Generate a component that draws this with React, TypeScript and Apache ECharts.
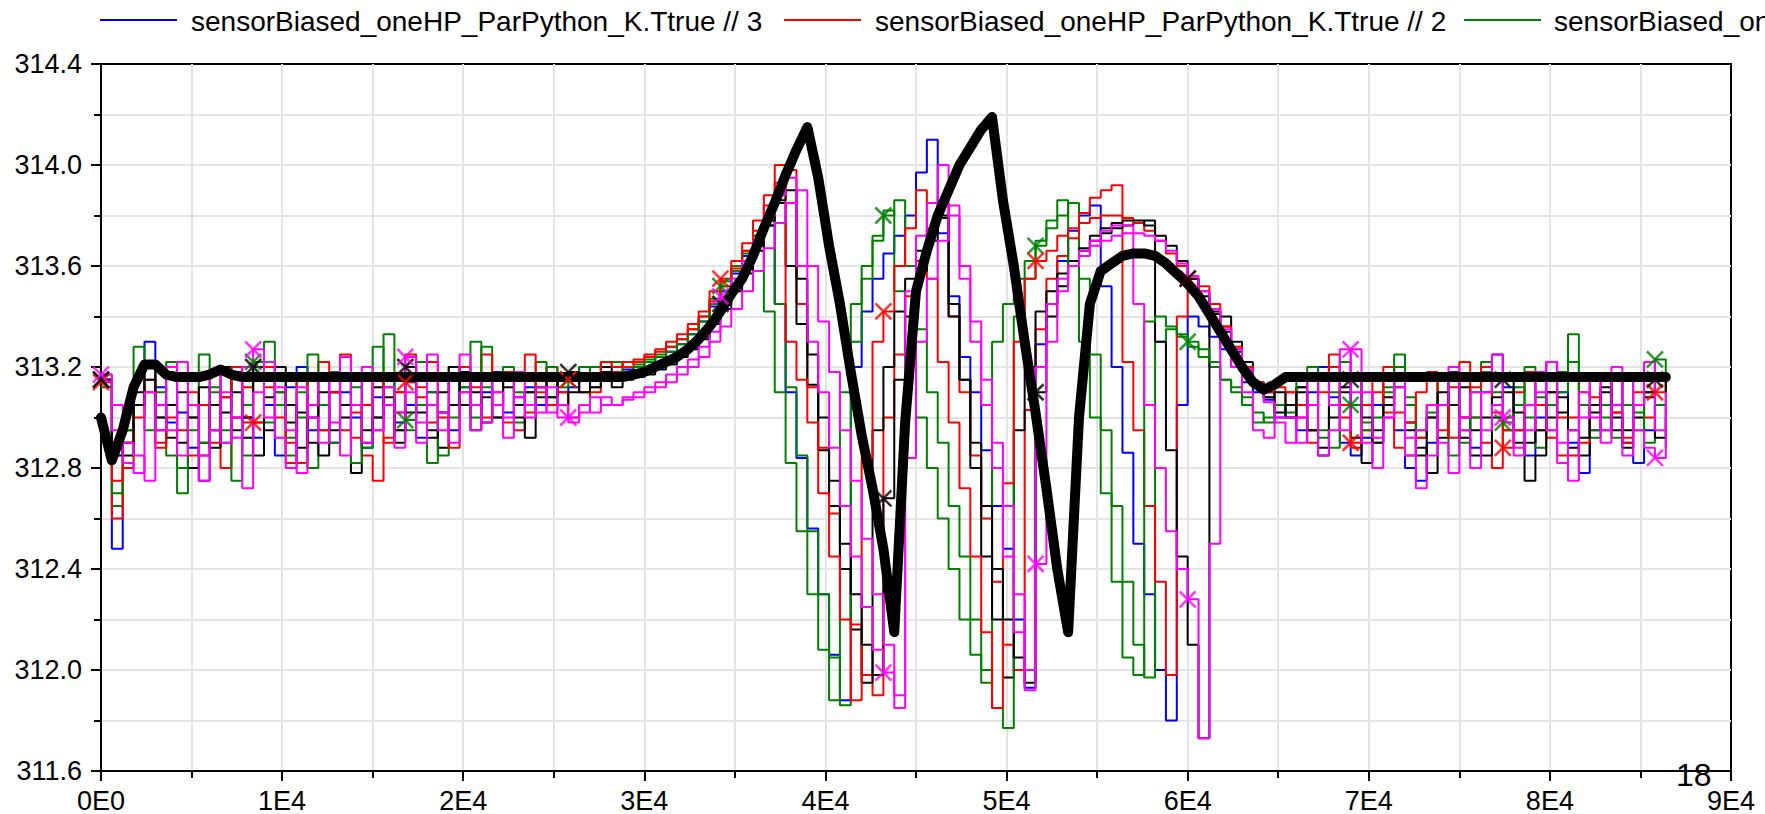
import React, { useEffect, useRef } from "react";
import * as echarts from "echarts";

const FONT = '"Liberation Sans", Arial, Helvetica, sans-serif';

// sampling grid of the simulation output (s)
const SAMPLE_PERIOD = 600;
const SAMPLE_COUNT = 145;
const T: number[] = Array.from({ length: SAMPLE_COUNT }, (_, i) => i * SAMPLE_PERIOD);

const X_TICKS = [0, 10000, 20000, 30000, 40000, 50000, 60000, 70000, 80000, 90000];
const Y_TICKS = [311.6, 312.0, 312.4, 312.8, 313.2, 313.6, 314.0, 314.4];

const LEGEND_NAMES = [
  "sensorBiased_oneHP_ParPython_K.Ttrue // 3",
  "sensorBiased_oneHP_ParPython_K.Ttrue // 2",
  "sensorBiased_oneHP_ParPython_K.Ttrue // 1",
];

// indices of the samples that carry a cross marker
const MARKER_IDX = [0, 14, 28, 43, 57, 72, 86, 100, 115, 129, 143];

const BLUE = [
  313.15, 312.48, 312.9, 313.05, 313.3, 313.12, 312.98, 313.02, 312.88, 312.75, 312.95, 313.08, 313.18, 313.0, 312.92, 313.05, 312.85, 313.12, 313.2, 312.95, 313.05, 312.9, 313.1, 313.0, 312.88, 313.08, 313.15, 312.98, 313.05, 312.92, 313.1, 313.02, 312.95, 313.12, 313.05, 313.1, 313.18, 313.02, 313.08, 313.12, 313.05, 313.15, 313.1, 313.12, 313.2, 313.15, 313.18,
  313.18, 313.19, 313.2, 313.22, 313.24, 313.26, 313.29, 313.33, 313.38, 313.44, 313.5, 313.57, 313.64, 313.7, 313.76, 313.45, 313.1, 312.84, 312.56, 312.3, 312.06, 311.88, 313.2, 313.42, 313.55, 313.65, 313.72, 313.8, 313.97, 314.1, 313.73, 313.48, 313.24, 313.1, 312.87, 312.65, 312.48, 312.2, 311.93, 313.29, 313.45, 313.62, 313.74, 313.8, 313.84, 313.52, 313.2, 312.86, 312.5, 312.3, 312.0, 311.8, 313.05, 313.4, 313.36, 313.32, 313.27, 313.2, 313.14, 313.1, 313.07, 313.0,
  313.05, 312.95, 313.1, 313.2, 313.08, 312.9, 312.85, 312.92, 313.05, 313.15, 312.95, 312.8, 312.75, 312.9, 313.05, 313.18, 313.0, 312.88, 313.1, 313.25, 313.12, 312.95, 312.85, 313.0, 313.22, 313.1, 312.9, 312.78, 312.95, 313.05, 313.15, 312.9, 312.82, 312.95, 313.05, 312.88,
];

const RED = [
  313.15, 312.6, 312.8, 313.05, 313.1, 312.9, 313.0, 313.15, 312.85, 313.05, 312.95, 312.8, 313.0, 313.12, 312.98, 313.2, 313.1, 312.9, 312.82, 313.05, 313.22, 313.1, 312.95, 313.02, 312.85, 312.75, 312.92, 313.1, 313.25, 313.08, 312.98, 313.15, 313.05, 313.2, 313.12, 313.25, 313.05, 313.18, 312.95, 313.02, 313.12, 313.2, 313.1, 313.0, 313.05, 313.1, 313.18,
  313.18, 313.2, 313.22, 313.24, 313.26, 313.28, 313.31, 313.35, 313.4, 313.46, 313.52, 313.59, 313.66, 313.74, 313.84, 313.93, 313.98, 313.45, 313.12, 312.88, 312.62, 312.4, 312.18, 311.98, 311.9, 313.0, 313.25, 313.48, 313.62, 313.75, 313.85, 313.4, 313.1, 312.85, 312.6, 312.35, 312.1, 312.0, 313.03, 313.35, 313.55, 313.64, 313.71, 313.81, 313.87, 313.9, 313.92, 313.22, 312.95, 312.65, 312.35, 311.98, 313.4, 313.55, 313.52, 313.45, 313.36, 313.27, 313.19, 313.12, 313.08, 313.05,
  313.1, 313.0, 312.9, 313.15, 313.25, 313.05, 312.88, 312.95, 313.1, 313.2, 313.02, 312.85, 312.92, 313.05, 312.95, 313.12, 313.22, 313.0, 312.9, 312.8, 312.95, 313.1, 313.18, 313.05, 312.92, 312.85, 313.0, 313.15, 313.08, 312.95, 313.02, 312.9, 313.1, 313.0, 313.15, 313.1,
];

const GREEN = [
  313.12, 312.65, 312.9, 313.28, 313.2, 313.0, 312.85, 312.7, 312.95, 313.25, 313.1, 312.9, 313.0, 312.85, 313.15, 313.3, 313.05, 312.92, 313.1, 312.8, 312.95, 313.18, 313.05, 313.12, 312.88, 313.0, 313.33, 313.1, 312.95, 313.05, 312.82, 313.02, 313.2, 313.12, 313.0, 313.28, 313.05, 313.15, 312.98, 313.1, 313.22, 313.08, 313.15, 313.18, 313.2, 313.12, 313.22,
  313.2, 313.22, 313.21, 313.23, 313.25, 313.28, 313.31, 313.35, 313.4, 313.47, 313.54, 313.6, 313.66, 313.72, 313.42, 313.1, 312.82, 312.55, 312.3, 312.08, 311.88, 313.1, 313.45, 313.6, 313.72, 313.82, 313.5, 313.25, 313.0, 312.8, 312.6, 312.4, 312.2, 312.06, 311.95, 313.3, 313.45, 313.55, 313.62, 313.7, 313.75, 313.8, 313.85, 313.55, 313.25, 312.95, 312.65, 312.35, 312.1, 311.97, 313.3, 313.35, 313.32, 313.28, 313.24, 313.2, 313.15, 313.12, 313.08, 313.02, 312.98, 313.05,
  313.02, 313.12, 313.2, 312.95, 312.88, 313.05, 313.15, 312.98, 312.9, 313.1, 313.2, 313.05, 312.92, 313.0, 313.15, 312.85, 312.95, 313.1, 313.22, 313.05, 312.95, 313.12, 313.0, 312.88, 313.05, 313.18, 313.33, 313.1, 312.95, 313.05, 312.92, 313.15, 313.02, 312.9, 313.05, 313.2,
];

const BLACK = [
  313.15, 312.85, 312.95, 313.1, 313.22, 313.0, 312.92, 313.1, 312.8, 312.9, 313.05, 313.2, 312.95, 313.0, 312.85, 313.08, 313.15, 312.98, 313.02, 312.9, 312.85, 313.1, 313.0, 312.78, 312.95, 313.12, 313.05, 312.9, 313.02, 313.15, 312.95, 312.88, 313.05, 313.18, 313.1, 312.98, 313.05, 313.12, 313.0, 312.92, 313.08, 313.15, 313.05, 313.1, 313.15, 313.12, 313.2,
  313.12, 313.15, 313.16, 313.17, 313.19, 313.21, 313.24, 313.27, 313.31, 313.37, 313.43, 313.5, 313.57, 313.66, 313.76, 313.85, 313.6, 313.37, 313.13, 312.87, 312.65, 312.4, 312.16, 311.95, 312.95, 313.2, 313.42, 313.55, 313.66, 313.73, 313.79, 313.4, 313.15, 312.8, 312.45, 312.2, 311.97, 312.95, 313.2, 313.42, 313.5, 313.57, 313.62, 313.66, 313.7, 313.73, 313.75, 313.76, 313.77, 313.78, 313.3, 312.87, 312.45, 312.1, 311.73, 313.42, 313.4, 313.3, 313.22, 313.14, 313.1, 313.02,
  313.05, 313.12, 312.95, 312.85, 313.0, 313.1, 312.92, 312.82, 312.95, 313.08, 313.15, 312.98, 312.88, 312.78, 312.92, 313.05, 313.12, 312.95, 312.85, 313.0, 313.1, 312.9, 312.75, 312.85, 313.0, 313.08, 312.95, 312.85, 313.02, 313.1, 312.95, 312.88, 313.0, 313.08, 312.92, 313.0,
];

const MAGENTA = [
  313.17, 312.95, 312.82, 312.78, 313.1, 312.95, 313.2, 312.85, 313.05, 312.75, 313.18, 312.9, 313.0, 312.72, 313.1, 313.22, 312.92, 312.8, 313.12, 313.0, 312.9, 313.15, 312.85, 313.05, 313.2, 312.95, 313.05, 312.88, 313.1, 312.98, 313.25, 313.02, 312.9, 313.1, 312.95, 313.15, 313.05, 312.92, 313.08, 313.0, 313.12, 313.02, 313.05, 312.98, 313.05, 313.02, 313.08,
  313.05, 313.07, 313.08, 313.1, 313.12, 313.14, 313.17, 313.2, 313.24, 313.3, 313.36, 313.43, 313.5, 313.58, 313.67, 313.77, 313.85, 313.9, 313.6, 313.38, 313.18, 312.95, 312.75, 312.52, 312.3, 312.1, 311.9, 312.84, 313.3, 313.55, 313.7, 313.84, 313.6, 313.38, 313.15, 312.9, 312.65, 312.3, 312.0, 313.2, 313.45, 313.55, 313.6, 313.64, 313.68, 313.7, 313.72, 313.73, 313.73, 313.72, 313.7, 313.66, 313.61, 313.56, 313.5, 313.43, 313.35, 313.27, 313.19, 313.12, 313.06, 312.98,
  312.9, 313.0, 313.15, 312.85, 312.95, 313.27, 313.1, 312.9, 312.8, 313.0, 313.15, 312.92, 312.72, 312.85, 313.05, 313.2, 312.95, 312.8, 313.1, 313.25, 313.0, 312.85, 312.95, 313.1, 313.22, 312.9, 312.75, 313.0, 313.15, 312.95, 313.2, 312.85, 313.05, 313.22, 312.95, 313.1,
];

const RED_X = [
  313.14, 312.75, 312.9, 313.0, 313.15, 312.88, 313.05, 312.95, 313.1, 312.85, 312.9, 313.08, 313.2, 312.98, 312.98, 313.12, 313.0, 312.82, 313.15, 313.05, 312.95, 313.1, 313.25, 312.92, 313.05, 313.15, 312.9, 313.02, 313.14, 313.12, 313.22, 313.0, 312.88, 313.05, 313.15, 313.0, 313.1, 312.98, 313.15, 313.25, 313.1, 313.05, 313.15, 313.15, 313.1, 313.15, 313.22,
  313.2, 313.22, 313.23, 313.25, 313.27, 313.3, 313.33, 313.37, 313.42, 313.5, 313.55, 313.62, 313.69, 313.78, 313.88, 314.0, 313.3, 313.15, 312.98, 312.7, 312.45, 312.2, 311.88, 312.84, 313.3, 313.42, 313.6, 313.75, 313.9, 313.55, 313.22, 312.98, 312.72, 312.45, 312.15, 311.85, 312.74, 313.3, 313.55, 313.62, 313.66, 313.72, 313.75, 313.77, 313.79, 313.8, 313.8, 313.79, 313.77, 313.74, 313.7, 313.65, 313.6, 313.55, 313.5, 313.43, 313.36, 313.28, 313.2, 313.14, 313.1, 313.12,
  313.1, 313.05, 312.95, 313.1, 313.2, 313.0, 312.9, 313.05, 313.15, 313.02, 312.88, 312.98, 313.1, 313.18, 313.05, 312.92, 313.0, 313.12, 313.2, 313.02, 312.88, 312.95, 313.05, 312.95, 313.1, 313.0, 312.85, 312.9, 313.05, 313.15, 313.02, 312.92, 313.05, 313.15, 313.1, 313.1,
];

const GREEN_X = [
  313.15, 312.7, 312.95, 313.15, 312.95, 313.1, 313.22, 312.8, 313.0, 312.9, 313.12, 312.95, 312.75, 313.05, 313.22, 312.98, 313.1, 312.85, 313.0, 313.25, 313.05, 312.9, 313.15, 312.82, 313.05, 313.28, 313.12, 312.95, 312.99, 313.22, 313.1, 312.85, 313.0, 313.1, 313.3, 313.12, 313.0, 313.2, 313.1, 313.05, 313.15, 313.2, 313.12, 313.15, 313.15, 313.2, 313.22,
  313.22, 313.18, 313.2, 313.22, 313.24, 313.26, 313.29, 313.33, 313.38, 313.45, 313.52, 313.58, 313.65, 313.72, 313.78, 313.45, 313.12, 312.85, 312.55, 312.3, 312.05, 311.86, 313.3, 313.55, 313.7, 313.8, 313.86, 313.6, 313.35, 313.1, 312.9, 312.65, 312.45, 312.2, 312.0, 311.85, 311.77, 313.4, 313.55, 313.68, 313.78, 313.86, 313.6, 313.3, 313.0, 312.7, 312.35, 312.05, 311.98, 313.38, 313.4, 313.36, 313.33, 313.3, 313.27, 313.22, 313.15, 313.1, 313.05, 312.98, 313.0, 313.05,
  313.0, 313.15, 313.05, 312.92, 313.1, 313.22, 313.05, 312.95, 313.0, 313.12, 313.25, 313.08, 312.95, 313.02, 313.15, 313.05, 312.9, 313.0, 313.18, 313.1, 312.98, 313.05, 313.2, 313.08, 312.95, 313.1, 313.22, 313.05, 312.92, 313.0, 313.15, 313.05, 312.95, 313.1, 313.23, 313.2,
];

const MAGENTA_X = [
  313.17, 313.05, 312.9, 312.85, 312.75, 313.05, 312.95, 313.22, 313.05, 312.85, 312.95, 313.1, 312.92, 313.2, 313.27, 313.0, 313.12, 312.95, 312.78, 313.05, 313.15, 312.98, 313.24, 313.05, 312.9, 312.95, 313.12, 313.02, 313.24, 312.9, 313.05, 312.95, 313.15, 313.25, 313.05, 312.98, 313.1, 313.0, 313.18, 313.05, 313.02, 313.12, 313.0, 313.0, 313.02, 313.08, 313.05,
  313.05, 313.08, 313.1, 313.12, 313.14, 313.17, 313.2, 313.23, 313.28, 313.34, 313.48, 313.55, 313.62, 313.7, 313.8, 313.88, 313.95, 313.6, 313.3, 313.1, 312.88, 312.65, 312.45, 312.25, 312.08, 311.99, 311.85, 313.5, 313.72, 313.85, 314.0, 313.8, 313.55, 313.3, 313.05, 312.8, 312.45, 312.15, 311.92, 312.42, 313.3, 313.5, 313.6, 313.66, 313.7, 313.74, 313.76, 313.76, 313.45, 313.05, 312.8, 312.55, 312.4, 312.28, 311.73, 312.5, 313.3, 313.2, 313.1, 312.95, 312.92, 313.0,
  313.0, 312.9, 313.05, 313.15, 313.05, 312.95, 313.27, 313.1, 312.92, 313.0, 313.12, 312.85, 312.95, 313.05, 312.9, 312.78, 313.0, 313.1, 312.95, 313.05, 313.0, 312.88, 313.05, 313.18, 312.95, 312.82, 312.95, 313.1, 313.0, 312.9, 313.05, 313.15, 312.95, 312.88, 312.84, 313.05,
];

const BLACK_X = [
  313.15, 312.9, 312.85, 313.05, 313.15, 312.95, 313.05, 312.9, 313.0, 313.12, 312.88, 313.02, 313.1, 312.92, 313.2, 312.95, 313.2, 313.05, 312.88, 313.0, 313.1, 312.95, 313.05, 313.15, 312.9, 313.0, 313.08, 312.95, 313.2, 313.02, 312.92, 313.1, 313.2, 313.05, 312.95, 313.08, 313.0, 313.15, 313.05, 313.1, 313.12, 313.08, 313.15, 313.18, 313.1, 313.15, 313.18,
  313.15, 313.16, 313.17, 313.18, 313.2, 313.22, 313.25, 313.28, 313.32, 313.38, 313.45, 313.52, 313.6, 313.68, 313.78, 313.86, 313.9, 313.55, 313.25, 313.0, 312.75, 312.5, 312.3, 312.1, 311.98, 312.68, 313.15, 313.4, 313.58, 313.7, 313.8, 313.45, 313.15, 312.9, 312.65, 312.4, 312.2, 312.05, 311.95, 313.1, 313.4, 313.52, 313.6, 313.67, 313.72, 313.75, 313.77, 313.78, 313.78, 313.76, 313.72, 313.68, 313.62, 313.55, 313.48, 313.41, 313.34, 313.26, 313.18, 313.12, 313.08, 313.1,
  313.0, 313.1, 312.95, 312.88, 313.05, 313.12, 313.15, 313.0, 312.9, 313.05, 313.12, 312.95, 312.85, 313.0, 313.1, 313.05, 312.92, 312.85, 313.0, 313.08, 313.15, 313.02, 312.9, 312.95, 313.1, 313.02, 312.88, 312.92, 313.05, 313.12, 313.0, 312.95, 313.05, 313.1, 313.15, 313.1,
];

const THICK = [
  313.0, 312.83, 312.95, 313.12, 313.21, 313.21, 313.17,
  313.16, 313.16, 313.16, 313.17, 313.19, 313.17,
  313.16, 313.16, 313.16, 313.16, 313.16, 313.16,
  313.16, 313.16, 313.16, 313.16, 313.16, 313.16,
  313.16, 313.16, 313.16, 313.16, 313.16, 313.16,
  313.16, 313.16, 313.16, 313.16, 313.16, 313.16,
  313.16, 313.16, 313.16, 313.16, 313.16, 313.16,
  313.16, 313.16, 313.16, 313.16, 313.16, 313.16,
  313.17, 313.18, 313.2, 313.22, 313.24, 313.27, 313.31, 313.36, 313.42, 313.49,
  313.55, 313.64, 313.75, 313.85, 313.96, 314.06, 314.15, 313.95, 313.68, 313.45,
  313.18, 312.93, 312.72, 312.48, 312.15, 312.98, 313.5, 313.66, 313.8, 313.9,
  314.0, 314.07, 314.14, 314.19, 313.86, 313.6, 313.3, 313.02, 312.72, 312.4,
  312.15, 313.0, 313.45, 313.58, 313.61, 313.64, 313.65, 313.65, 313.64, 313.61,
  313.57, 313.53, 313.48, 313.41, 313.34, 313.27, 313.2, 313.14, 313.11, 313.13,
  313.16, 313.16, 313.16, 313.16, 313.16, 313.16,
  313.16, 313.16, 313.16, 313.16, 313.16, 313.16,
  313.16, 313.16, 313.16, 313.16, 313.16, 313.16,
  313.16, 313.16, 313.16, 313.16, 313.16, 313.16,
  313.16, 313.16, 313.16, 313.16, 313.16, 313.16,
  313.16, 313.16, 313.16, 313.16, 313.16, 313.16,
];

const C_BLUE = "#0000ff";
const C_RED = "#ff0000";
const C_GREEN = "#008000";
const C_MAGENTA = "#ff00ff";
const C_BLACK = "#000000";

const THIN = [
  { name: LEGEND_NAMES[0], data: BLUE, color: C_BLUE, marker: false },
  { name: LEGEND_NAMES[2], data: GREEN, color: C_GREEN, marker: false },
  { name: LEGEND_NAMES[1], data: RED, color: C_RED, marker: false },
  { name: "sensorBiased_oneHP_ParPython_K.Ttrue // 0", data: BLACK, color: C_BLACK, marker: false },
  { name: "sensorBiased_oneHP_ParPython_K.Ttrue // 4", data: GREEN_X, color: C_GREEN, marker: true },
  { name: "sensorBiased_oneHP_ParPython_K.Ttrue // 5", data: RED_X, color: C_RED, marker: true },
  { name: "sensorBiased_oneHP_ParPython_K.Ttrue // 6", data: BLACK_X, color: C_BLACK, marker: true },
  { name: "sensorBiased_oneHP_ParPython_K.Ttrue // 7", data: MAGENTA, color: C_MAGENTA, marker: false },
  { name: "sensorBiased_oneHP_ParPython_K.Ttrue // 8", data: MAGENTA_X, color: C_MAGENTA, marker: true },
];

const CROSS = "path://M0,0L10,10M10,0L0,10";

function buildOption() {
  const series: any[] = [];
  THIN.forEach((s) => {
    series.push({
      type: "line",
      name: s.name,
      data: T.map((t, i) => [t, s.data[i]]),
      step: "end",
      symbol: "none",
      silent: true,
      lineStyle: { color: s.color, width: 2 },
      itemStyle: { color: s.color },
      z: 2,
    });
  });
  series.push({
    type: "line",
    name: "sensorBiased_oneHP_ParPython_K.Ttrue",
    data: T.map((t, i) => [t, THICK[i]]),
    symbol: "none",
    silent: true,
    lineStyle: { color: C_BLACK, width: 10, cap: "round", join: "round" },
    itemStyle: { color: C_BLACK },
    z: 3,
  });
  THIN.filter((s) => s.marker).forEach((s) => {
    series.push({
      type: "scatter",
      name: s.name + " markers",
      data: MARKER_IDX.map((i) => [T[i], s.data[i]]),
      symbol: CROSS,
      symbolSize: 16,
      silent: true,
      itemStyle: { color: "none", borderColor: s.color, borderWidth: 2.5 },
      z: 4,
    });
  });

  const legendItems = [
    { color: C_BLUE, name: LEGEND_NAMES[0], lx: 100, tx: 191 },
    { color: C_RED, name: LEGEND_NAMES[1], lx: 784, tx: 875 },
    { color: C_GREEN, name: LEGEND_NAMES[2], lx: 1464, tx: 1554 },
  ];
  const graphic: any[] = [];
  legendItems.forEach((it) => {
    graphic.push({
      type: "line",
      shape: { x1: it.lx, y1: 20, x2: it.lx + 77, y2: 20 },
      style: { stroke: it.color, lineWidth: 2 },
      silent: true,
    });
    graphic.push({
      type: "text",
      x: it.tx,
      y: 21,
      style: {
        text: it.name,
        font: `28px ${FONT}`,
        fill: "#000",
        textVerticalAlign: "middle",
        verticalAlign: "middle",
      },
      silent: true,
    });
  });
  graphic.push({
    type: "text",
    x: 1676,
    y: 791,
    style: { text: "18", font: `32px ${FONT}`, fill: "#000", verticalAlign: "bottom", textVerticalAlign: "bottom" },
    silent: true,
    z: 10,
  });

  const gridColor = "#e4e4e4";
  return {
    animation: false,
    backgroundColor: "#ffffff",
    textStyle: { fontFamily: FONT },
    grid: {
      left: 101,
      right: 34,
      top: 64,
      bottom: 43,
      containLabel: false,
      show: true,
      borderColor: "#000",
      borderWidth: 2,
      backgroundColor: "transparent",
    },
    xAxis: {
      type: "value",
      min: X_TICKS[0],
      max: X_TICKS[X_TICKS.length - 1],
      interval: X_TICKS[1] - X_TICKS[0],
      axisLine: { show: true, onZero: false, lineStyle: { color: "#000", width: 2 } },
      axisTick: { show: true, length: 10, lineStyle: { color: "#000", width: 2 } },
      minorTick: { show: true, splitNumber: 2, length: 7, lineStyle: { color: "#000", width: 2 } },
      splitLine: { show: true, showMinLine: false, showMaxLine: false, lineStyle: { color: gridColor, width: 2 } },
      minorSplitLine: { show: true, lineStyle: { color: gridColor, width: 2 } },
      axisLabel: {
        fontSize: 27,
        color: "#000",
        fontFamily: FONT,
        margin: 16,
        showMinLabel: true,
        showMaxLabel: true,
        formatter: (v: number) => (v === 0 ? "0E0" : `${Math.round(v / 10000)}E4`),
      },
    },
    yAxis: {
      type: "value",
      min: Y_TICKS[0],
      max: Y_TICKS[Y_TICKS.length - 1],
      interval: 0.4,
      axisLine: { show: true, onZero: false, lineStyle: { color: "#000", width: 2 } },
      axisTick: { show: true, length: 10, lineStyle: { color: "#000", width: 2 } },
      minorTick: { show: true, splitNumber: 2, length: 7, lineStyle: { color: "#000", width: 2 } },
      splitLine: { show: true, showMinLine: false, showMaxLine: false, lineStyle: { color: gridColor, width: 2 } },
      minorSplitLine: { show: true, lineStyle: { color: gridColor, width: 2 } },
      axisLabel: {
        fontSize: 27,
        color: "#000",
        fontFamily: FONT,
        margin: 19,
        showMinLabel: true,
        showMaxLabel: true,
        formatter: (v: number) => v.toFixed(1),
      },
    },
    graphic,
    series,
  };
}

export default function App() {
  const ref = useRef<HTMLDivElement>(null);
  useEffect(() => {
    if (!ref.current) return;
    const chart = echarts.init(ref.current, null, { renderer: "svg" });
    chart.setOption(buildOption() as any);
    return () => {
      chart.dispose();
    };
  }, []);
  return (
    <div
      ref={ref}
      style={{ position: "fixed", left: 0, top: 0, width: 1765, height: 814, background: "#ffffff", overflow: "hidden" }}
    />
  );
}
